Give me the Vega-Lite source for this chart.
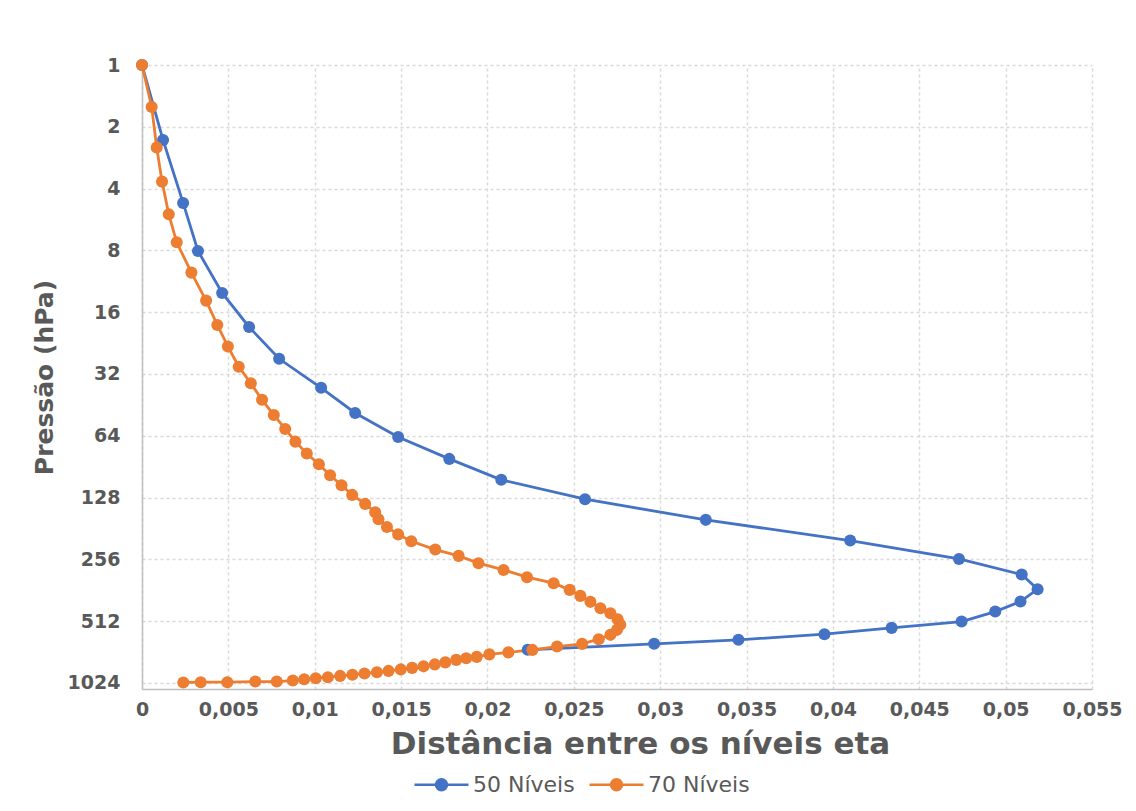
{
  "$schema": "https://vega.github.io/schema/vega-lite/v6.json",
  "width": 950,
  "height": 624,
  "autosize": "none",
  "padding": {"left": 142, "top": 65, "right": 44, "bottom": 122},
  "background": "white",
  "config": {
    "view": {"stroke": null},
    "font": "DejaVu Sans"
  },
  "data": {
    "values": [
      {"s": "50 Níveis", "i": 1, "x": 0, "p": 1},
      {"s": "50 Níveis", "i": 2, "x": 0.00122, "p": 2.32},
      {"s": "50 Níveis", "i": 3, "x": 0.00238, "p": 4.7},
      {"s": "50 Níveis", "i": 4, "x": 0.00324, "p": 8.05},
      {"s": "50 Níveis", "i": 5, "x": 0.00464, "p": 12.9},
      {"s": "50 Níveis", "i": 6, "x": 0.0062, "p": 18.9},
      {"s": "50 Níveis", "i": 7, "x": 0.00794, "p": 27.0},
      {"s": "50 Níveis", "i": 8, "x": 0.01037, "p": 37.4},
      {"s": "50 Níveis", "i": 9, "x": 0.01234, "p": 49.6},
      {"s": "50 Níveis", "i": 10, "x": 0.01483, "p": 64.9},
      {"s": "50 Níveis", "i": 11, "x": 0.01779, "p": 83},
      {"s": "50 Níveis", "i": 12, "x": 0.0208, "p": 105},
      {"s": "50 Níveis", "i": 13, "x": 0.02565, "p": 130.5},
      {"s": "50 Níveis", "i": 14, "x": 0.03264, "p": 164.5},
      {"s": "50 Níveis", "i": 15, "x": 0.041, "p": 207.5},
      {"s": "50 Níveis", "i": 16, "x": 0.0473, "p": 255},
      {"s": "50 Níveis", "i": 17, "x": 0.05093, "p": 303.8},
      {"s": "50 Níveis", "i": 18, "x": 0.05185, "p": 358},
      {"s": "50 Níveis", "i": 19, "x": 0.05086, "p": 411.3},
      {"s": "50 Níveis", "i": 20, "x": 0.0494, "p": 460.2},
      {"s": "50 Níveis", "i": 21, "x": 0.04745, "p": 515},
      {"s": "50 Níveis", "i": 22, "x": 0.0434, "p": 552.6},
      {"s": "50 Níveis", "i": 23, "x": 0.03951, "p": 593},
      {"s": "50 Níveis", "i": 24, "x": 0.03453, "p": 632},
      {"s": "50 Níveis", "i": 25, "x": 0.02965, "p": 661},
      {"s": "50 Níveis", "i": 26, "x": 0.02233, "p": 707},
      {"s": "70 Níveis", "i": 1, "x": 0, "p": 1},
      {"s": "70 Níveis", "i": 2, "x": 0.00056, "p": 1.6},
      {"s": "70 Níveis", "i": 3, "x": 0.00085, "p": 2.52},
      {"s": "70 Níveis", "i": 4, "x": 0.00116, "p": 3.7},
      {"s": "70 Níveis", "i": 5, "x": 0.00155, "p": 5.34},
      {"s": "70 Níveis", "i": 6, "x": 0.00201, "p": 7.31},
      {"s": "70 Níveis", "i": 7, "x": 0.00286, "p": 10.27},
      {"s": "70 Níveis", "i": 8, "x": 0.00371, "p": 14.06},
      {"s": "70 Níveis", "i": 9, "x": 0.00436, "p": 18.47},
      {"s": "70 Níveis", "i": 10, "x": 0.00497, "p": 23.5},
      {"s": "70 Níveis", "i": 11, "x": 0.0056, "p": 29.5},
      {"s": "70 Níveis", "i": 12, "x": 0.0063, "p": 35.5},
      {"s": "70 Níveis", "i": 13, "x": 0.00695, "p": 42.8},
      {"s": "70 Níveis", "i": 14, "x": 0.00763, "p": 50.7},
      {"s": "70 Níveis", "i": 15, "x": 0.00829, "p": 59.3},
      {"s": "70 Níveis", "i": 16, "x": 0.00888, "p": 68.4},
      {"s": "70 Níveis", "i": 17, "x": 0.00954, "p": 78.2},
      {"s": "70 Níveis", "i": 18, "x": 0.01024, "p": 88.1},
      {"s": "70 Níveis", "i": 19, "x": 0.01089, "p": 99.7},
      {"s": "70 Níveis", "i": 20, "x": 0.01155, "p": 111.5},
      {"s": "70 Níveis", "i": 21, "x": 0.01217, "p": 124.3},
      {"s": "70 Níveis", "i": 22, "x": 0.01292, "p": 137.5},
      {"s": "70 Níveis", "i": 23, "x": 0.0135, "p": 151},
      {"s": "70 Níveis", "i": 24, "x": 0.01369, "p": 163.3},
      {"s": "70 Níveis", "i": 25, "x": 0.01418, "p": 178},
      {"s": "70 Níveis", "i": 26, "x": 0.01483, "p": 193.6},
      {"s": "70 Níveis", "i": 27, "x": 0.01559, "p": 209},
      {"s": "70 Níveis", "i": 28, "x": 0.01698, "p": 229.6},
      {"s": "70 Níveis", "i": 29, "x": 0.01833, "p": 246.4},
      {"s": "70 Níveis", "i": 30, "x": 0.01948, "p": 267.4},
      {"s": "70 Níveis", "i": 31, "x": 0.02093, "p": 288.4},
      {"s": "70 Níveis", "i": 32, "x": 0.02229, "p": 313},
      {"s": "70 Níveis", "i": 33, "x": 0.02383, "p": 334.7},
      {"s": "70 Níveis", "i": 34, "x": 0.02476, "p": 360.8},
      {"s": "70 Níveis", "i": 35, "x": 0.02538, "p": 385.9},
      {"s": "70 Níveis", "i": 36, "x": 0.02596, "p": 412.7},
      {"s": "70 Níveis", "i": 37, "x": 0.02654, "p": 443},
      {"s": "70 Níveis", "i": 38, "x": 0.02712, "p": 468.6},
      {"s": "70 Níveis", "i": 39, "x": 0.02754, "p": 501.2},
      {"s": "70 Níveis", "i": 40, "x": 0.02769, "p": 534},
      {"s": "70 Níveis", "i": 41, "x": 0.0275, "p": 565},
      {"s": "70 Níveis", "i": 42, "x": 0.02712, "p": 597.6},
      {"s": "70 Níveis", "i": 43, "x": 0.02644, "p": 627.3},
      {"s": "70 Níveis", "i": 44, "x": 0.02548, "p": 661.2},
      {"s": "70 Níveis", "i": 45, "x": 0.02403, "p": 681.7},
      {"s": "70 Níveis", "i": 46, "x": 0.0226, "p": 707.4},
      {"s": "70 Níveis", "i": 47, "x": 0.02121, "p": 727.4},
      {"s": "70 Níveis", "i": 48, "x": 0.02011, "p": 743.9},
      {"s": "70 Níveis", "i": 49, "x": 0.01938, "p": 765},
      {"s": "70 Níveis", "i": 50, "x": 0.01877, "p": 777.8},
      {"s": "70 Níveis", "i": 51, "x": 0.01819, "p": 791.3},
      {"s": "70 Níveis", "i": 52, "x": 0.01756, "p": 813.7},
      {"s": "70 Níveis", "i": 53, "x": 0.01695, "p": 832.4},
      {"s": "70 Níveis", "i": 54, "x": 0.0163, "p": 851},
      {"s": "70 Níveis", "i": 55, "x": 0.01564, "p": 865.5},
      {"s": "70 Níveis", "i": 56, "x": 0.01498, "p": 880.4},
      {"s": "70 Níveis", "i": 57, "x": 0.01427, "p": 895.3},
      {"s": "70 Níveis", "i": 58, "x": 0.0136, "p": 908.4},
      {"s": "70 Níveis", "i": 59, "x": 0.01288, "p": 922},
      {"s": "70 Níveis", "i": 60, "x": 0.01218, "p": 934},
      {"s": "70 Níveis", "i": 61, "x": 0.01147, "p": 947},
      {"s": "70 Níveis", "i": 62, "x": 0.01076, "p": 961},
      {"s": "70 Níveis", "i": 63, "x": 0.01006, "p": 971.8},
      {"s": "70 Níveis", "i": 64, "x": 0.00939, "p": 982.6},
      {"s": "70 Níveis", "i": 65, "x": 0.00873, "p": 998},
      {"s": "70 Níveis", "i": 66, "x": 0.0078, "p": 1009},
      {"s": "70 Níveis", "i": 67, "x": 0.00656, "p": 1009},
      {"s": "70 Níveis", "i": 68, "x": 0.00494, "p": 1016},
      {"s": "70 Níveis", "i": 69, "x": 0.0034, "p": 1016},
      {"s": "70 Níveis", "i": 70, "x": 0.00239, "p": 1020}
    ]
  },
  "encoding": {
    "x": {
      "field": "x",
      "type": "quantitative",
      "scale": {"domain": [0, 0.055], "nice": false, "zero": false},
      "axis": {
        "values": [0, 0.005, 0.01, 0.015, 0.02, 0.025, 0.03, 0.035, 0.04, 0.045, 0.05, 0.055],
        "labelExpr": "replace(format(datum.value, '~g'), '.', ',')",
        "labelFont": "DejaVu Sans",
        "labelFontSize": 19,
        "labelFontWeight": "bold",
        "labelColor": "#595959",
        "labelPadding": 11,
        "labelFlush": false,
        "labelOverlap": false,
        "ticks": false,
        "domainColor": "#bfbfbf",
        "domainWidth": 1.5,
        "grid": true,
        "gridColor": "#d9d9d9",
        "gridDash": [3, 3],
        "gridWidth": 1.5,
        "title": "Distância entre os níveis eta",
        "titleFont": "DejaVu Sans",
        "titleFontSize": 31,
        "titleFontWeight": "bold",
        "titleColor": "#595959",
        "titlePadding": 10,
        "titleX": 498
      }
    },
    "y": {
      "field": "p",
      "type": "quantitative",
      "scale": {"type": "log", "base": 2, "domain": [1, 1097], "reverse": true, "nice": false},
      "axis": {
        "values": [1, 2, 4, 8, 16, 32, 64, 128, 256, 512, 1024],
        "labelExpr": "format(datum.value, 'd')",
        "labelFont": "DejaVu Sans",
        "labelFontSize": 19,
        "labelFontWeight": "bold",
        "labelColor": "#595959",
        "labelPadding": 22,
        "labelFlush": false,
        "labelOverlap": false,
        "ticks": false,
        "domainColor": "#bfbfbf",
        "domainWidth": 1.5,
        "grid": true,
        "gridColor": "#d9d9d9",
        "gridDash": [3, 3],
        "gridWidth": 1.5,
        "title": "Pressão (hPa)",
        "titleFont": "DejaVu Sans",
        "titleFontSize": 25,
        "titleFontWeight": "bold",
        "titleColor": "#595959",
        "titlePadding": 10
      }
    },
    "color": {
      "field": "s",
      "type": "nominal",
      "scale": {"domain": ["50 Níveis", "70 Níveis"], "range": ["#4472C4", "#ED7D31"]},
      "legend": {
        "title": null,
        "orient": "none",
        "direction": "horizontal",
        "legendX": 271,
        "legendY": 691,
        "symbolType": "M-1,0L-0.2,0M0.2,0L1,0M-0.2,0A0.2,0.2 0 1,0 0.2,0A0.2,0.2 0 1,0 -0.2,0Z",
        "symbolSize": 2916,
        "symbolStrokeWidth": 2.7,
        "symbolOpacity": 1,
        "labelFont": "DejaVu Sans",
        "labelFontSize": 22,
        "labelColor": "#595959",
        "labelOffset": 3,
        "columnPadding": 9,
        "encode": {
          "symbols": {
            "update": {
              "fill": {"scale": "color", "field": "value"},
              "stroke": {"scale": "color", "field": "value"}
            }
          }
        }
      }
    },
    "order": {"field": "i", "type": "quantitative"}
  },
  "layer": [
    {"mark": {"type": "line", "strokeWidth": 2.8}},
    {"mark": {"type": "point", "filled": true, "opacity": 1, "size": 145, "shape": "circle"}}
  ]
}
